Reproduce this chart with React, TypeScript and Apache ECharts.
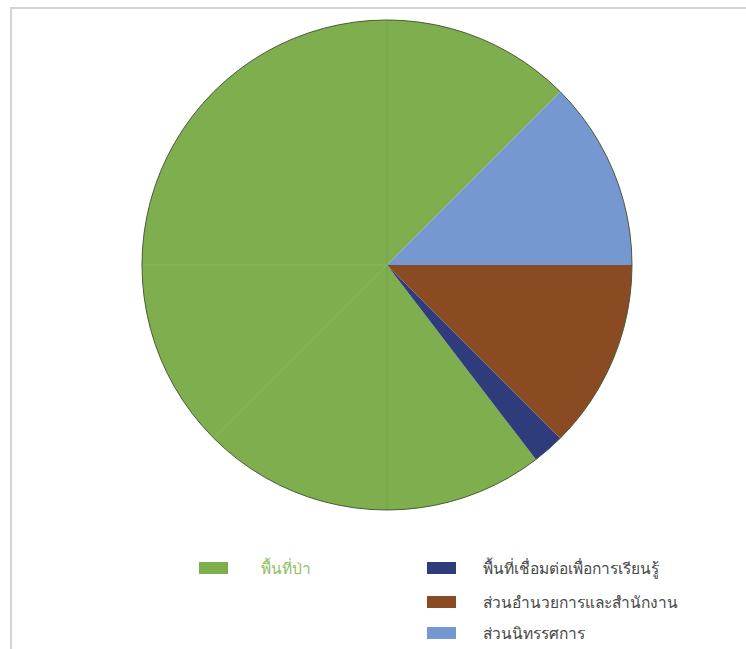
import React, { useEffect, useRef } from "react";
import * as echarts from "echarts";

const categories = [
  "พื้นที่ป่า",
  "พื้นที่เชื่อมต่อเพื่อการเรียนรู้",
  "ส่วนอำนวยการและสำนักงาน",
  "ส่วนนิทรรศการ",
];
const values = [72.9, 2.1, 12.5, 12.5];
const colors = ["#7fae4f", "#2e3c7c", "#8b4b22", "#7698d1"];

const CX = 387;
const CY = 265;
const R = 245;

const legendPos = [
  { left: 194, top: 555, pad: 28, color: "#8fbf62" },
  { left: 422, top: 555, pad: 22, color: "#484848" },
  { left: 422, top: 589, pad: 22, color: "#484848" },
  { left: 422, top: 620, pad: 22, color: "#484848" },
];

export default function App() {
  const ref = useRef<HTMLDivElement>(null);
  useEffect(() => {
    if (!ref.current) return;
    const chart = echarts.init(ref.current, null, { renderer: "svg" });
    const data = categories.map((name, i) => ({
      name,
      value: values[i],
      itemStyle: { color: colors[i] },
    }));
    const font = "Tahoma, 'Noto Sans', 'DejaVu Sans', sans-serif";
    chart.setOption({
      animation: false,
      backgroundColor: "#ffffff",
      legend: categories.map((name, i) => ({
        data: [name],
        left: legendPos[i].left,
        top: legendPos[i].top,
        height: 40,
        orient: "horizontal",
        itemWidth: 29,
        itemHeight: 12,
        icon: "rect",
        selectedMode: false,
        textStyle: {
          color: legendPos[i].color,
          fontSize: 15.5,
          fontFamily: font,
          padding: [0, 0, 0, legendPos[i].pad],
        },
      })),
      series: [
        {
          type: "pie",
          center: [CX, CY],
          radius: R,
          startAngle: 45,
          clockwise: false,
          label: { show: false },
          labelLine: { show: false },
          emphasis: { disabled: true },
          itemStyle: { borderWidth: 0 },
          data,
        },
      ],
      graphic: [
        {
          type: "line",
          shape: { x1: CX, y1: CY - R + 1, x2: CX, y2: CY + R - 1 },
          style: { stroke: "#76a548", lineWidth: 1 },
          z: 10,
        },
        {
          type: "line",
          shape: { x1: CX - R + 1, y1: CY, x2: CX, y2: CY },
          style: { stroke: "#8ab95c", lineWidth: 1 },
          z: 10,
        },
        {
          type: "line",
          shape: {
            x1: CX,
            y1: CY,
            x2: CX - R * Math.SQRT1_2,
            y2: CY + R * Math.SQRT1_2,
          },
          style: { stroke: "#8ab95c", lineWidth: 1 },
          z: 10,
        },
        {
          type: "circle",
          shape: { cx: CX, cy: CY, r: R },
          style: { fill: "none", stroke: "#4d5a3c", lineWidth: 1 },
          z: 11,
        },
        {
          type: "line",
          shape: { x1: 10, y1: 8, x2: 746, y2: 8 },
          style: { stroke: "#d3d3d3", lineWidth: 2 },
        },
        {
          type: "line",
          shape: { x1: 11, y1: 7, x2: 11, y2: 649 },
          style: { stroke: "#d3d3d3", lineWidth: 2 },
        },
      ],
    });
    return () => chart.dispose();
  }, []);
  return (
    <div
      ref={ref}
      style={{ position: "fixed", left: 0, top: 0, width: 746, height: 649 }}
    />
  );
}
